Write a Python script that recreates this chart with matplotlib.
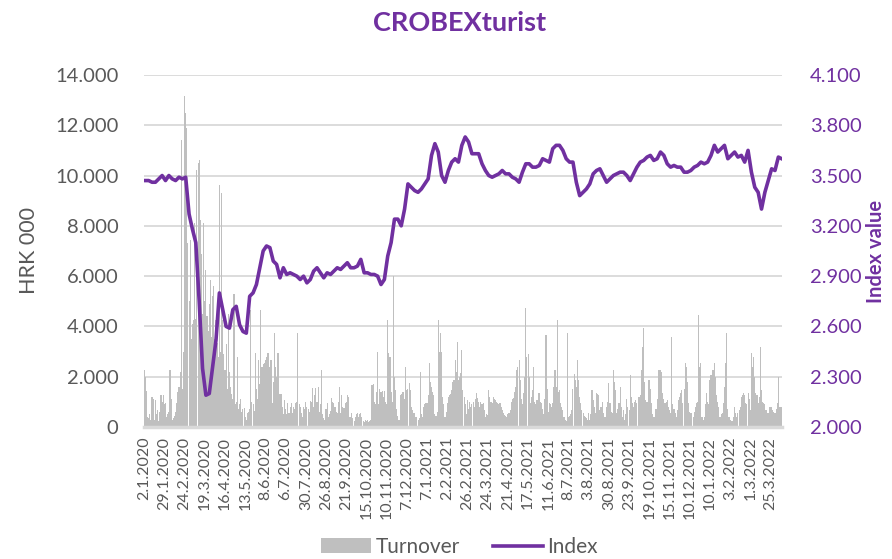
import numpy as np
import matplotlib.pyplot as plt
from matplotlib.ticker import FuncFormatter
from matplotlib.patches import Patch
from matplotlib.lines import Line2D

# daily turnover, HRK 000 (trading days 2.1.2020 - 8.4.2022)
turnover = [
    2270, 2000, 1450, 400, 350, 500, 300, 1200, 1100, 300, 1070, 500, 680, 250, 600,
    1270, 1000, 1270, 900, 950, 400, 500, 600, 2270, 1100, 300, 350, 450, 600, 940,
    1400, 1600, 2200, 11430, 1500, 3000, 13150, 12500, 11890, 7300, 5000, 7440, 3500, 4100, 4260,
    8100, 4300, 10200, 10500, 10600, 8240, 6900, 4500, 8100, 5000, 6250, 4400, 3800, 4900, 5850,
    3600, 5200, 5600, 3500, 4260, 3330, 2800, 9630, 3000, 9300, 4260, 2900, 2270,
    3300, 1500, 4500, 2200, 1600, 1300, 1100, 5300, 900, 1000, 2800, 700, 900, 1100, 600,
    700, 750, 400, 300, 550, 600, 700, 4650, 1000, 900, 650, 2930, 1500, 1100, 2650,
    1700, 4650, 2400, 2500, 2530, 2650, 2800, 2930, 2930, 2400, 2650, 950, 1800, 3730, 2400,
    2000, 2930, 2930, 1300, 1300, 800, 500, 1070, 700, 500, 950, 550, 800, 940, 550,
    800, 700, 940, 1000, 3730, 900, 800, 550, 400, 800, 700,
    1000, 800, 700, 600, 1050, 1000, 1540, 800, 1270, 1540, 1000, 1600, 600, 900, 2270,
    500, 350, 300, 700, 940, 400, 500, 650, 1140, 1000, 940, 800, 600, 550, 1000,
    1600, 550, 1270, 800, 750, 940, 1000, 1270, 1200, 400, 420, 550, 350, 250, 420,
    500, 550, 400, 500, 550, 400, 250, 200, 280, 250, 280, 220, 250, 300, 1670,
    1700, 1000, 900, 1400, 3000, 900, 1500, 1400, 1450, 1200, 1450,
    1000, 900, 4260, 2930, 2800, 1400, 1000, 5990, 2000, 1470, 700, 450, 300, 1270, 1300,
    1400, 1400, 1100, 2400, 1470, 1500, 1750, 1470, 800, 680, 550, 550, 400, 420, 280,
    350, 2200, 500, 400, 800, 900, 940, 940, 1270, 2530, 1800, 1600, 1400, 1270, 500,
    450, 600, 4260, 3000, 3730, 3000, 1200, 900, 400, 600, 940, 1200, 1270, 1300, 1470,
    1800, 1870, 2650, 2200, 3400, 1870, 2000, 2130, 3050, 1470, 1200,
    900, 500, 1070, 700, 1000, 800, 900, 1000, 800, 1100, 1340, 1140, 1000, 800, 1000,
    900, 940, 680, 400, 500, 480, 1470, 1200, 1000, 940, 1200, 1100, 1070, 1000, 940,
    900, 940, 800, 680, 550, 480, 450, 400, 500, 550, 680, 1000, 1100, 1140, 1400,
    1600, 2270, 2400, 2670, 1870, 1100, 900, 1340, 2000, 4720, 2800, 2900, 2000, 940, 1200,
    1470, 2400, 1000, 900, 1070, 1340, 1340, 1000, 940, 700, 500,
    1100, 3660, 1500, 600, 940, 900, 800, 940, 1600, 2270, 1600, 4260, 1400, 1470, 940,
    800, 680, 400, 300, 250, 3730, 400, 450, 500, 680, 1500, 2120, 1870, 1600, 2670,
    1870, 1200, 940, 680, 550, 450, 400, 350, 300, 550, 300, 500, 1470, 1070, 800,
    550, 1340, 1300, 1270, 680, 800, 1000, 550, 400, 400, 800, 1000, 1740, 940, 600,
    550, 2270, 1800, 1470, 550, 700, 940, 1600, 800, 400, 680,
    300, 500, 1100, 800, 680, 2070, 1200, 940, 800, 1000, 1070, 940, 1200, 1200, 1270,
    2270, 3200, 3930, 1800, 1070, 1000, 1870, 1870, 1500, 940, 500, 400, 400, 700, 1100,
    2270, 2270, 2270, 2200, 1340, 1100, 940, 1000, 1070, 800, 680, 550, 3600, 900, 700,
    550, 400, 680, 1070, 1200, 1340, 1470, 940, 1500, 2530, 2400, 1800, 940, 600, 550,
    550, 400, 600, 800, 940, 1000, 4460, 2400, 2530, 400, 300,
    400, 900, 1340, 1000, 900, 1870, 2070, 2270, 2270, 2530, 2000, 1270, 1000, 800, 400,
    500, 550, 940, 1600, 2530, 3730, 700, 400, 300, 250, 250, 400, 800, 550, 400,
    550, 680, 800, 1200, 1270, 1340, 1270, 940, 900, 1340, 1100, 680, 2930, 2400, 2800,
    2000, 1340, 1270, 940, 1200, 3200, 1470, 1000, 940, 900, 680, 550, 550, 800, 800,
    800, 680, 600, 550, 700, 940, 2000, 800, 800, 800,
]

# CROBEXturist index value, every third trading day
index_vals = [
    3.47, 3.47, 3.46, 3.46, 3.48, 3.50, 3.47, 3.50, 3.48, 3.47, 3.49,
    3.48, 3.49, 3.27, 3.18, 3.10, 2.75, 2.35, 2.19, 2.20, 2.36,
    2.52, 2.80, 2.70, 2.60, 2.59, 2.70, 2.72, 2.61, 2.57, 2.56,
    2.78, 2.80, 2.85, 2.95, 3.05, 3.08, 3.07, 2.99, 2.97, 2.89,
    2.95, 2.91, 2.92, 2.91, 2.90, 2.88, 2.90, 2.86, 2.88, 2.93,
    2.95, 2.92, 2.89, 2.92, 2.91, 2.93, 2.95, 2.94, 2.96, 2.98,
    2.95, 2.95, 2.96, 3.00, 2.92, 2.92, 2.91, 2.91, 2.90, 2.85,
    2.88, 3.02, 3.10, 3.24, 3.24, 3.20, 3.30, 3.45, 3.43, 3.41,
    3.40, 3.42, 3.45, 3.48, 3.62, 3.69, 3.64, 3.50, 3.46, 3.53,
    3.58, 3.60, 3.58, 3.68, 3.73, 3.70, 3.63, 3.63, 3.63, 3.57,
    3.53, 3.50, 3.49, 3.50, 3.51, 3.53, 3.51, 3.51, 3.49, 3.48,
    3.46, 3.52, 3.57, 3.57, 3.55, 3.55, 3.56, 3.60, 3.59, 3.58,
    3.66, 3.68, 3.68, 3.65, 3.60, 3.58, 3.58, 3.46, 3.38, 3.40,
    3.42, 3.45, 3.51, 3.53, 3.54, 3.50, 3.46, 3.48, 3.50, 3.51,
    3.52, 3.52, 3.50, 3.47, 3.51, 3.55, 3.58, 3.59, 3.61, 3.62,
    3.59, 3.60, 3.64, 3.62, 3.57, 3.55, 3.56, 3.55, 3.55, 3.52,
    3.52, 3.53, 3.55, 3.56, 3.58, 3.57, 3.58, 3.62, 3.68, 3.64,
    3.66, 3.68, 3.60, 3.62, 3.64, 3.61, 3.62, 3.58, 3.65, 3.52,
    3.43, 3.40, 3.30, 3.40, 3.47, 3.54, 3.53, 3.61, 3.60,
]

tick_labels = ['2.1.2020', '29.1.2020', '24.2.2020', '19.3.2020', '16.4.2020', '13.5.2020',
               '8.6.2020', '6.7.2020', '30.7.2020', '26.8.2020', '21.9.2020', '15.10.2020',
               '10.11.2020', '7.12.2020', '7.1.2021', '2.2.2021', '26.2.2021', '24.3.2021',
               '21.4.2021', '17.5.2021', '11.6.2021', '8.7.2021', '3.8.2021', '30.8.2021',
               '23.9.2021', '19.10.2021', '15.11.2021', '10.12.2021', '10.1.2022', '3.2.2022',
               '1.3.2022', '25.3.2022']

purple = '#7030A0'
gray_txt = '#595959'
plt.rcParams['font.family'] = ['Lato', 'DejaVu Sans']

n = len(turnover)
x = np.arange(n)

fig = plt.figure(figsize=(8.92, 5.59), dpi=100)
ax = fig.add_axes([0.161, 0.236, 0.716, 0.630])
ax.bar(x, turnover, width=0.95, color='#BFBFBF', linewidth=0)
ax.set_xlim(-0.5, n - 0.5)
ax.set_ylim(0, 14000)
ax.set_yticks(np.arange(0, 14001, 2000))
ax.yaxis.set_major_formatter(FuncFormatter(lambda v, p: f'{v:,.0f}'.replace(',', '.')))
ax.grid(axis='y', color='#D9D9D9', linewidth=1.3)
ax.set_axisbelow(True)
ax.set_xticks(np.arange(0, 18 * len(tick_labels), 18))
ax.set_xticklabels(tick_labels, rotation=90, fontsize=11.5, color=gray_txt)
ax.tick_params(axis='y', labelsize=14.5, colors=gray_txt, length=0, pad=18)
ax.tick_params(axis='x', length=0, pad=7)
for s in ['top', 'right', 'left']:
    ax.spines[s].set_visible(False)
ax.spines['bottom'].set_color('#D9D9D9')
ax.spines['bottom'].set_linewidth(2.5)
ax.set_ylabel('HRK 000', fontsize=15.5, color=gray_txt, labelpad=12)

ax2 = ax.twinx()
ax2.plot(x[1::3][:len(index_vals)], index_vals, color=purple, linewidth=2.6)
ax2.set_ylim(2.0, 4.1)
ax2.set_yticks(np.arange(2.0, 4.11, 0.3))
ax2.yaxis.set_major_formatter(FuncFormatter(lambda v, p: f'{v:.3f}'))
ax2.tick_params(axis='y', labelsize=14.5, colors=purple, length=0, pad=20)
for s in ['top', 'right', 'left', 'bottom']:
    ax2.spines[s].set_visible(False)
ax2.set_ylabel('Index value', fontsize=14.5, color=purple, fontweight='bold', labelpad=3)

fig.suptitle('CROBEXturist', x=0.515, y=0.98, fontsize=19.5, fontweight='bold', color=purple)

handles = [Patch(facecolor='#BFBFBF', edgecolor='none'),
           Line2D([0], [0], color=purple, linewidth=2.6)]
fig.legend(handles, ['Turnover', 'Index'], loc='lower center', bbox_to_anchor=(0.515, -0.03),
           ncol=2, frameon=False, fontsize=15, labelcolor=gray_txt, handlelength=2.4,
           handletextpad=0.2, columnspacing=1.6)

fig.savefig('out.png', dpi=100)
